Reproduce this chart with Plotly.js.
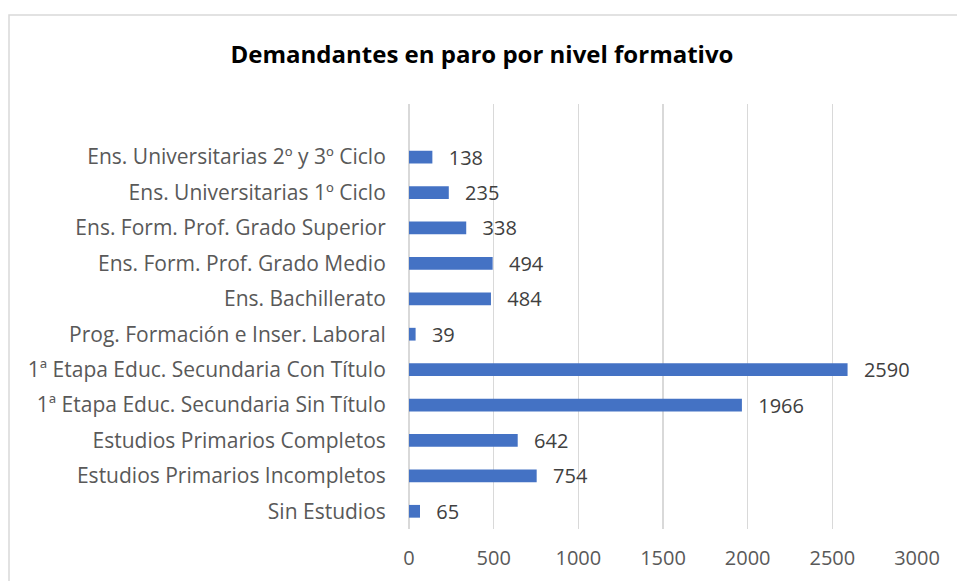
<!DOCTYPE html>
<html><head><meta charset="utf-8">
<script src="https://cdn.plot.ly/plotly-3.0.1.min.js"></script>
<style>body{margin:0;background:#fff}#c{width:957px;height:581px}</style>
</head><body><div id="c"></div>
<script>
const categories = ["Sin Estudios","Estudios Primarios Incompletos","Estudios Primarios Completos","1ª Etapa Educ. Secundaria Sin Título","1ª Etapa Educ. Secundaria Con Título","Prog. Formación e Inser. Laboral","Ens. Bachillerato","Ens. Form. Prof. Grado Medio","Ens. Form. Prof. Grado Superior","Ens. Universitarias 1º Ciclo","Ens. Universitarias 2º y 3º Ciclo"];
const values = [65,754,642,1966,2590,39,484,494,338,235,138];
const xTicks = [0,500,1000,1500,2000,2500,3000];

const W=957,H=581,L=409,R=40,T=104,B=52;
const pw=W-L-R, ph=H-T-B;
const px = x => (x-L)/pw, py = y => 1-(y-T)/ph;
const font = "'Open Sans', sans-serif";

Plotly.newPlot('c',[{
  type:'bar',orientation:'h',x:values,y:categories,
  marker:{color:'#4472C4'},width:0.36,
  text:values.map(String),texttemplate:'\u2002\u2009%{text}',textposition:'outside',cliponaxis:false,constraintext:'none',
  textfont:{family:font,size:20,color:'#404040'},
  hoverinfo:'none'
}],{
  width:W,height:H,margin:{l:L,r:R,t:T,b:B},
  paper_bgcolor:'#fff',plot_bgcolor:'#fff',
  title:{text:'<b>Demandantes en paro por nivel formativo</b>',font:{family:font,size:24,color:'#000'},x:px(482),xref:'paper',xanchor:'center',y:1-55/H,yanchor:'middle'},
  xaxis:{range:[0,3000],tickvals:xTicks,ticktext:xTicks.map(String),showgrid:true,gridcolor:'#d9d9d9',gridwidth:1.5,zeroline:true,zerolinecolor:'#d9d9d9',zerolinewidth:1.5,showline:false,ticks:'outside',ticklen:11,tickcolor:'rgba(0,0,0,0)',tickfont:{family:font,size:20,color:'#595959'},automargin:false},
  yaxis:{type:'category',categoryorder:'array',categoryarray:categories,range:[-0.5,11.5],showgrid:false,zeroline:false,showline:false,ticks:'outside',ticklen:18,tickcolor:'rgba(0,0,0,0)',tickfont:{family:font,size:21,color:'#595959'},automargin:false},
  showlegend:false,bargap:0.64,
  shapes:[{type:'rect',xref:'paper',yref:'paper',x0:px(9),x1:px(980),y0:py(15),y1:py(600),line:{color:'#d9d9d9',width:1.5},fillcolor:'rgba(0,0,0,0)',layer:'below'}]
},{displayModeBar:false,staticPlot:true});
</script></body></html>
